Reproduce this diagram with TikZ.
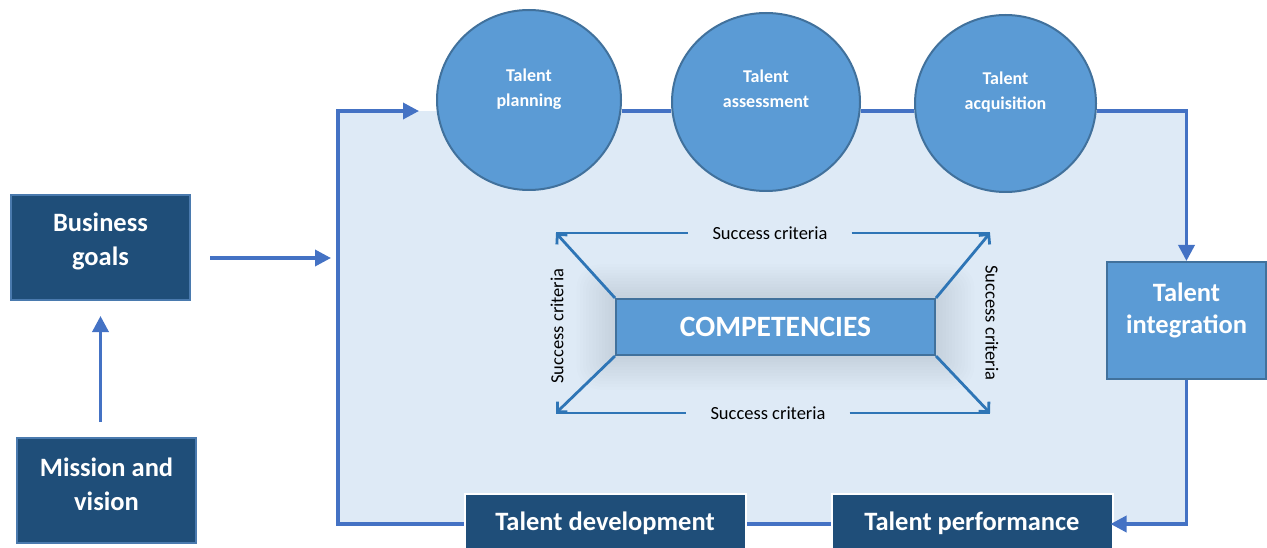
\documentclass[tikz,border=0pt]{standalone}
\usepackage{fontspec}
\setmainfont{Carlito}
\usetikzlibrary{arrows.meta,shapes.geometric}
\definecolor{lineblue}{HTML}{4472C4}
\definecolor{midblue}{HTML}{5B9BD5}
\definecolor{midborder}{HTML}{41719C}
\definecolor{darkblue}{HTML}{1F4E79}
\definecolor{bgblue}{HTML}{DEEAF6}
\definecolor{critblue}{HTML}{2E75B6}
\definecolor{darkedge}{HTML}{4A7AAE}
\definecolor{glowgray}{HTML}{3A4654}
\pgfdeclarelayer{back}
\pgfsetlayers{back,main}
\tikzset{
  flow/.style={draw=lineblue, line width=3.5pt},
  tipped/.style={-{Triangle[length=16pt,width=16pt]}},
  darkbox/.style={rectangle, fill=darkblue, draw=#1, line width=2pt, inner sep=0pt,
    minimum width=179pt, minimum height=105pt},
  darkbox/.default=darkedge,
  bottombox/.style={rectangle, fill=darkblue, draw=white, line width=2pt, inner sep=0pt,
    minimum width=281pt, minimum height=60pt},
  bluecircle/.style={ellipse, fill=midblue, draw=midborder, line width=2pt, inner sep=0pt},
  boxtext/.style={text=white, align=center, font=\fontsize{26.5}{34}\selectfont\bfseries},
  circtext/.style={text=white, align=center, font=\fontsize{18}{25}\selectfont\bfseries},
  crit/.style={draw=critblue, line width=2.8pt},
  crittip/.style={-{Straight Barb[angle=90:10pt]}},
  crittext/.style={text=black, font=\fontsize{18.5}{22}\selectfont, inner xsep=24pt, inner ysep=0pt}
}
\begin{document}
\begin{tikzpicture}[x=1pt,y=-1pt]
\useasboundingbox (0,0) rectangle (1267,548);

% main nodes
\node[bluecircle, minimum width=184pt, minimum height=180pt] (plan) at (529,100) {};
\node[bluecircle, minimum width=188pt, minimum height=178pt] (assess) at (766,102) {};
\node[bluecircle, minimum width=181pt, minimum height=177pt] (acq) at (1005.5,103.5) {};
\node[circtext] (plantx) at ([yshift=11pt]plan.center) {Talent\\planning};
\node[circtext] (assesstx) at ([yshift=13pt]assess.center) {Talent\\assessment};
\node[circtext] (acqtx) at ([yshift=11.5pt]acq.center) {Talent\\acquisition};

\node[rectangle, fill=midblue, draw=midborder, line width=2pt, inner sep=0pt,
  minimum width=159pt, minimum height=117pt] (integ) at (1186.5,320.5) {};
\node[boxtext, font=\fontsize{26.5}{32}\selectfont\bfseries] (integtx) at ([yshift=10pt]integ.center) {Talent\\integration};

\node[bottombox] (dev) at (605,524) {};
\node[boxtext] (devtx) at ([yshift=1pt]dev.center) {Talent development};
\node[bottombox] (perf) at (972,524) {};
\node[boxtext] (perftx) at ([yshift=1pt]perf.center) {Talent performance};

\node[darkbox] (biz) at (100.5,247.5) {};
\node[boxtext] (biztx) at ([yshift=6pt]biz.center) {Business\\goals};
\node[darkbox] (mis) at (106.5,490.5) {};
\node[boxtext] (mistx) at ([yshift=6pt]mis.center) {Mission and\\vision};

\node[rectangle, fill=midblue, draw=midborder, line width=2pt, inner sep=0pt,
  minimum width=319pt, minimum height=56pt, text=white,
  font=\fontsize{29.5}{32}\selectfont\bfseries] (comp) at (775.5,327) {COMPETENCIES};

% background and glow
\begin{pgfonlayer}{back}
  \fill[bgblue] (338,111) rectangle (1186,524);
  \foreach \i in {1,...,12}{
    \fill[glowgray, opacity=0.013, rounded corners=2*\i pt]
      ([xshift=-3.2*\i pt, yshift=2.8*\i pt]comp.north west) rectangle
      ([xshift=3.2*\i pt, yshift=-2.8*\i pt]comp.south east);
  }
\end{pgfonlayer}

% coordinates
\coordinate (tl) at (338,111);
\coordinate (a1) at (419,111);
\coordinate (inl) at (331,258);
\coordinate (ctl) at (556,233);
\coordinate (ctr) at (990,233);
\coordinate (cbl) at (556,413);
\coordinate (cbr) at (990,413);

% loop connectors
\draw[flow, tipped] (dev.west) -| (tl) -- (a1);
\draw[flow] (plan.east |- a1) -- (assess.west |- a1);
\draw[flow] (assess.east |- a1) -- (acq.west |- a1);
\draw[flow, tipped] (acq.east |- a1) -| (integ.north);
\draw[flow, tipped, shorten >=-3pt] (integ.south) |- (perf.east);
\draw[flow] (perf.west) -- (dev.east);

% left connectors
\draw[flow, tipped, shorten <=15pt, shorten >=15pt] (mis.north -| biz.south) -- (biz.south);
\draw[flow, tipped, shorten <=19pt] (inl -| biz.east) -- (inl);

% success criteria
\node[crittext] (sct) at (770,233) {Success criteria};
\node[crittext] (scb) at (768,413) {Success criteria};
\node[crittext, rotate=90] (scl) at (557,326) {Success criteria};
\node[crittext, rotate=-90] (scr) at (992,323) {Success criteria};
\draw[crit, crittip] (comp.north west) -- (ctl);
\draw[crit, crittip] (comp.north east) -- (ctr);
\draw[crit, crittip] (comp.south west) -- (cbl);
\draw[crit, crittip] (comp.south east) -- (cbr);
\draw[crit] (ctl) -- (sct.west);
\draw[crit] (sct.east) -- (ctr);
\draw[crit] (cbl) -- (scb.west);
\draw[crit] (scb.east) -- (cbr);
\end{tikzpicture}
\end{document}
